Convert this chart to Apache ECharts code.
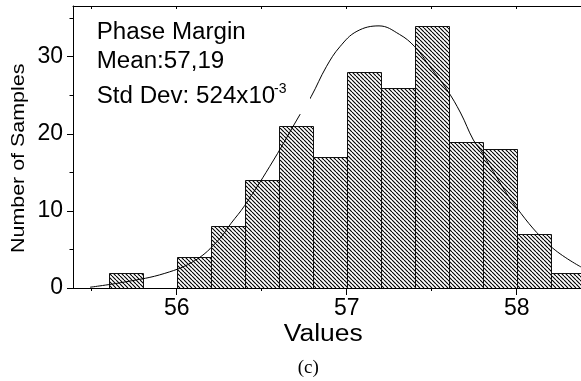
<!DOCTYPE html>
<html>
<head>
<meta charset="utf-8">
<script src="https://cdn.jsdelivr.net/npm/echarts@6/dist/echarts.min.js"></script>
<style>
  html, body { margin: 0; padding: 0; background: #fff; }
  #chart { width: 581px; height: 381px; }
</style>
</head>
<body>
<div id="chart"></div>
<script>
// Histogram bins: lower edge of each bin and the number of samples in it
const binLower  = [55.6, 55.8, 56.0, 56.2, 56.4, 56.6, 56.8, 57.0, 57.2, 57.4, 57.6, 57.8, 58.0, 58.2];
const binCounts = [2, 0, 4, 8, 14, 21, 17, 28, 26, 34, 19, 18, 7, 2];
const binWidth = 0.2;

// Fitted normal curve, sampled along the value axis
const fitX = [55.49, 55.70, 55.93, 56.11, 56.245, 56.32, 56.40, 56.57, 56.725, 56.79, 56.88, 56.96, 57.06, 57.19,
              57.31, 57.40, 57.49, 57.59, 57.67, 57.745, 57.80, 57.84, 58.00, 58.20, 58.38];
const fitY = [0.1, 0.8, 1.9, 3.6, 6.2, 8.4, 10.7, 16.6, 22.5, 24.8, 28.7, 31.3, 33.3, 34.0,
              32.9, 31.3, 28.7, 25.7, 22.7, 19.2, 17.5, 15.9, 10.4, 5.4, 2.7];

// Axis ticks
const xMajorTicks = [56, 57, 58];
const xMinorTicks = [55.5, 56.5, 57.5];
const yMajorTicks = [0, 10, 20, 30];
const yMinorTicks = [5, 15, 25, 35];

const X_MIN = 55.39, X_MAX = 58.378;
const Y_MAX = 36.58;

// Diagonal hatch tile used to fill the bars
function makeHatch(size) {
  const c = document.createElement('canvas');
  c.width = size; c.height = size;
  const g = c.getContext('2d');
  g.fillStyle = '#fff';
  g.fillRect(0, 0, size, size);
  g.strokeStyle = '#000';
  g.lineWidth = 1.15;
  g.beginPath();
  for (let k = -1; k <= 1; k++) {
    g.moveTo(k * size, 0);
    g.lineTo(k * size + size, size);
  }
  g.stroke();
  return c;
}
const hatch = makeHatch(4);

const SANS = "'Liberation Sans', Arial, sans-serif";
const chart = echarts.init(document.getElementById('chart'), null, { renderer: 'canvas' });

const axisCommon = { type: 'value', splitLine: { show: false } };

chart.setOption({
  animation: false,
  backgroundColor: '#fff',
  grid: { left: 73, right: 0, top: 6, bottom: 93, containLabel: false, outerBoundsMode: 'none' },
  xAxis: [
    Object.assign({}, axisCommon, {
      min: X_MIN, max: X_MAX, position: 'bottom',
      axisLine: { show: true, onZero: false, lineStyle: { color: '#000', width: 1 } },
      axisTick: { show: true, customValues: xMajorTicks, length: 7, lineStyle: { color: '#000' } },
      axisLabel: { customValues: xMajorTicks, color: '#000', fontSize: 23, fontFamily: SANS, margin: 9 }
    }),
    Object.assign({}, axisCommon, {
      min: X_MIN, max: X_MAX, position: 'bottom',
      axisLine: { show: false, onZero: false },
      axisTick: { show: true, customValues: xMinorTicks, length: 3, lineStyle: { color: '#000' } },
      axisLabel: { show: false }
    }),
    Object.assign({}, axisCommon, {
      min: X_MIN, max: X_MAX, position: 'top',
      axisLine: { show: true, onZero: false, lineStyle: { color: '#000', width: 1 } },
      axisTick: { show: true, inside: true, customValues: xMinorTicks.concat(xMajorTicks), length: 3, lineStyle: { color: '#000' } },
      axisLabel: { show: false }
    })
  ],
  yAxis: [
    Object.assign({}, axisCommon, {
      min: 0, max: Y_MAX, position: 'left',
      axisLine: { show: true, onZero: false, lineStyle: { color: '#000', width: 1 } },
      axisTick: { show: true, customValues: yMajorTicks, length: 6, lineStyle: { color: '#000' } },
      axisLabel: { customValues: yMajorTicks, color: '#000', fontSize: 23, fontFamily: SANS, margin: 10 }
    }),
    Object.assign({}, axisCommon, {
      min: 0, max: Y_MAX, position: 'left',
      axisLine: { show: false, onZero: false },
      axisTick: { show: true, customValues: yMinorTicks, length: 3.5, lineStyle: { color: '#000' } },
      axisLabel: { show: false }
    })
  ],
  series: [
    {
      type: 'custom',
      xAxisIndex: 0, yAxisIndex: 0,
      clip: true,
      encode: { x: [0, 1], y: 2 },
      data: binLower.map((lo, i) => [lo, lo + binWidth, binCounts[i]]),
      renderItem: function (params, api) {
        const n = api.value(2);
        if (!n) return;
        const a = api.coord([api.value(0), n]);
        const b = api.coord([api.value(1), 0]);
        const x0 = Math.round(a[0]) + 0.5, x1 = Math.round(b[0]) + 0.5;
        const y0 = Math.round(a[1]) + 0.5, y1 = Math.round(b[1]) + 0.5;
        return {
          type: 'rect',
          shape: { x: x0, y: y0, width: x1 - x0, height: y1 - y0 },
          style: { fill: { image: hatch, repeat: 'repeat' }, stroke: '#111', lineWidth: 1 }
        };
      },
      z: 2
    },
    {
      type: 'line',
      xAxisIndex: 0, yAxisIndex: 0,
      data: fitX.map((x, i) => [x, fitY[i]]),
      smooth: 0.4,
      showSymbol: false,
      clip: true,
      lineStyle: { color: '#000', width: 1 },
      z: 3
    }
  ],
  graphic: [
    // legend box with the fit statistics
    { type: 'rect', shape: { x: 80, y: 12, width: 230, height: 102 }, style: { fill: '#fff' }, z: 50 },
    { type: 'text', x: 96.7, y: 32.7, scaleX: 1.05, z: 60,
      style: { text: 'Phase Margin', font: '23px ' + SANS, fill: '#000', textAlign: 'left', textVerticalAlign: 'middle' } },
    { type: 'text', x: 96.7, y: 61.7, scaleX: 1.05, z: 60,
      style: { text: 'Mean:57,19', font: '23px ' + SANS, fill: '#000', textAlign: 'left', textVerticalAlign: 'middle' } },
    { type: 'text', x: 96.7, y: 97, scaleX: 1.05, z: 60,
      style: { text: 'Std Dev: 524x10', font: '23px ' + SANS, fill: '#000', textAlign: 'left', textVerticalAlign: 'middle' } },
    { type: 'text', x: 274, y: 89, z: 60,
      style: { text: '-3', font: '14px ' + SANS, fill: '#000', textAlign: 'left', textVerticalAlign: 'middle' } },
    // axis titles
    { type: 'text', x: 19.5, y: 158.3, rotation: Math.PI / 2, scaleX: 1.19, z: 60,
      style: { text: 'Number of Samples', font: '18px ' + SANS, fill: '#000', textAlign: 'center', textVerticalAlign: 'middle' } },
    { type: 'text', x: 323.3, y: 335, scaleX: 1.15, z: 60,
      style: { text: 'Values', font: '23px ' + SANS, fill: '#000', textAlign: 'center', textVerticalAlign: 'middle' } },
    { type: 'text', x: 308.3, y: 368, z: 60,
      style: { text: '(c)', font: "19px 'Liberation Serif', 'Times New Roman', serif", fill: '#000', textAlign: 'center', textVerticalAlign: 'middle' } }
  ]
});
</script>
</body>
</html>
